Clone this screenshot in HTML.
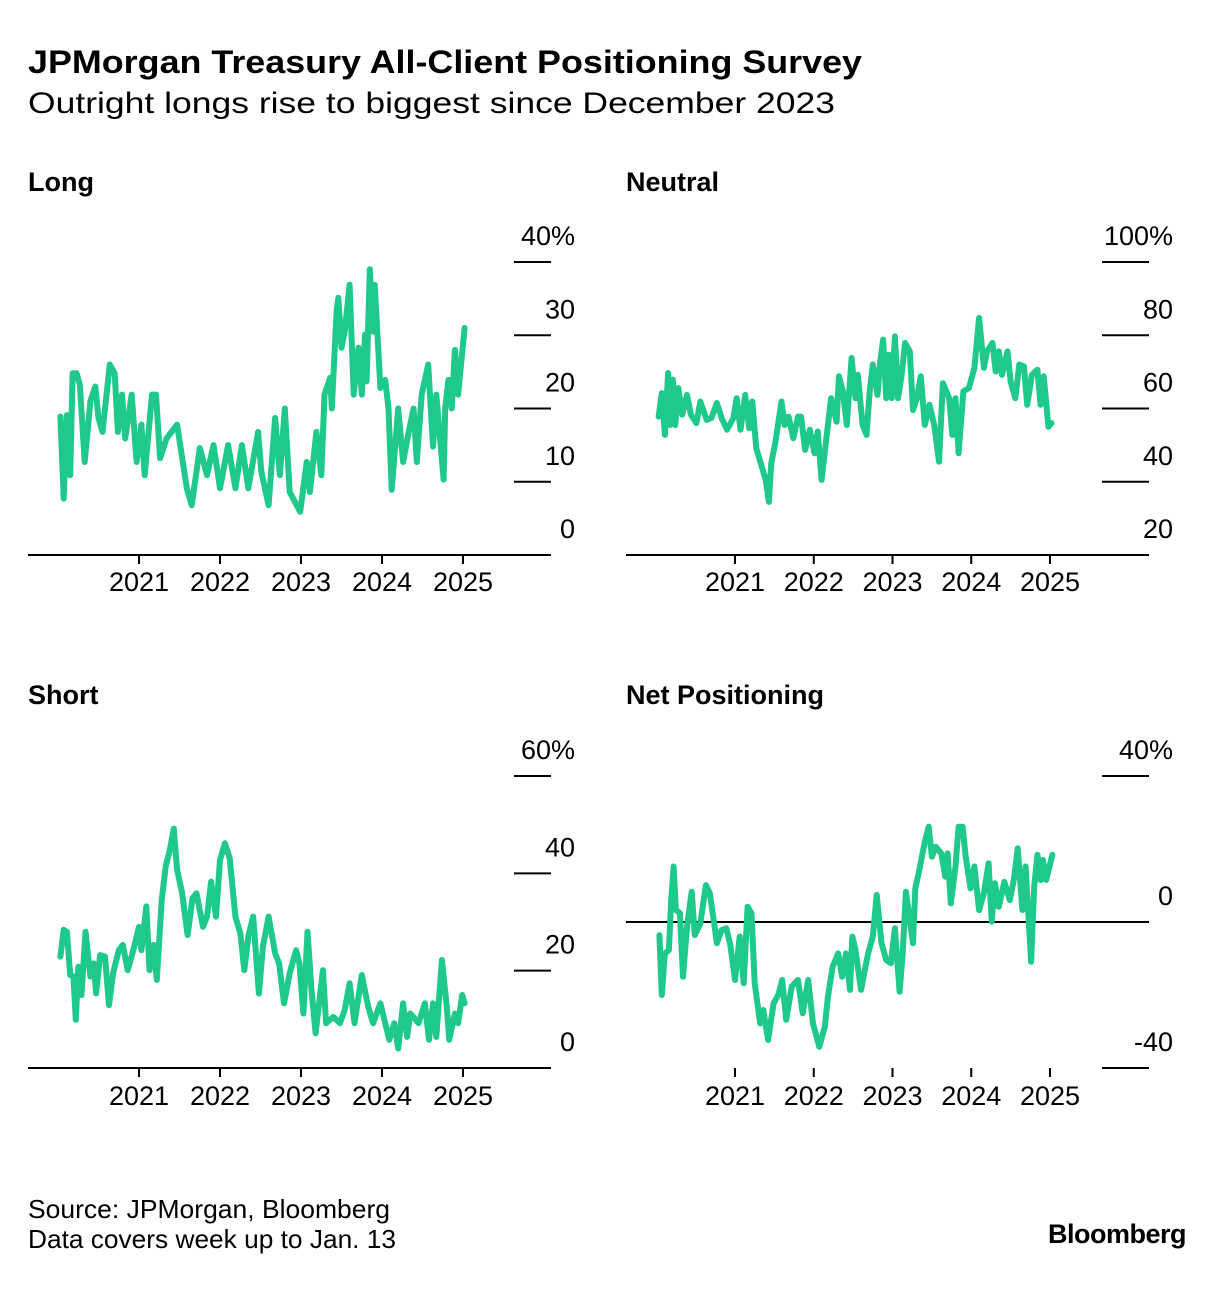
<!DOCTYPE html>
<html><head><meta charset="utf-8"><style>
html,body{margin:0;padding:0;background:#fff;}
svg{display:block;font-family:"Liberation Sans",Arial,sans-serif;}
</style></head><body>
<svg id="chart" width="1224" height="1294" viewBox="0 0 1224 1294" xmlns="http://www.w3.org/2000/svg">
<text x="28" y="73" font-size="32" font-weight="bold" fill="#000" textLength="834" lengthAdjust="spacingAndGlyphs">JPMorgan Treasury All-Client Positioning Survey</text>
<text x="28" y="113" font-size="30" fill="#000" textLength="807" lengthAdjust="spacingAndGlyphs">Outright longs rise to biggest since December 2023</text>
<text x="28" y="1218" font-size="26" fill="#000" textLength="362" lengthAdjust="spacingAndGlyphs">Source: JPMorgan, Bloomberg</text>
<text x="28" y="1248" font-size="26" fill="#000" textLength="368" lengthAdjust="spacingAndGlyphs">Data covers week up to Jan. 13</text>
<text x="1186" y="1243" font-size="27" font-weight="bold" fill="#000" text-anchor="end" letter-spacing="-0.5">Bloomberg</text>
<g id="panels"></g>
</svg>
<script>
// ---- Long panel data ----
const longDates = [2020.03,2020.07,2020.11,2020.15,2020.18,2020.23,2020.27,2020.33,2020.40,2020.46,2020.50,2020.55,2020.64,2020.70,2020.74,2020.79,2020.83,2020.91,2020.97,2021.03,2021.07,2021.16,2021.21,2021.26,2021.34,2021.47,2021.59,2021.65,2021.75,2021.84,2021.92,2022.00,2022.10,2022.19,2022.27,2022.35,2022.47,2022.51,2022.60,2022.68,2022.74,2022.80,2022.86,2022.99,2023.07,2023.11,2023.19,2023.25,2023.29,2023.36,2023.38,2023.44,2023.46,2023.50,2023.54,2023.60,2023.65,2023.71,2023.75,2023.79,2023.81,2023.85,2023.89,2023.91,2023.98,2024.04,2024.08,2024.12,2024.20,2024.26,2024.33,2024.39,2024.43,2024.49,2024.57,2024.63,2024.67,2024.76,2024.78,2024.82,2024.86,2024.90,2024.94,2025.02];
const longValues = [18.9,7.7,19.1,10.9,24.8,24.8,23.2,12.7,21,23,18.7,16.8,26,24.8,16.8,21.9,15.9,21.9,12.7,17.8,10.9,21.9,21.9,13.2,15.9,17.8,9.1,6.8,14.6,10.9,15,9.1,15,9.1,15,9.1,16.8,11.4,6.8,18.7,10.9,20,8.6,5.9,12.7,8.6,16.8,10.9,21.9,24.2,20,33.3,35.1,28.3,30.5,36.9,21.9,28.3,21.9,30.1,23.7,39,30.5,36.9,22.8,23.9,20,8.9,20,12.7,16.8,20,12.7,21.9,26,14.8,21.9,10.3,20,23.9,20,28,21.9,31];
const longTicks = [0,10,20,30,40];
const longTickLabels = ["0","10","20","30","40%"];
// ---- Neutral panel data ----
const neutralDates = [2020.03,2020.07,2020.11,2020.15,2020.18,2020.21,2020.24,2020.28,2020.33,2020.39,2020.44,2020.51,2020.56,2020.64,2020.70,2020.77,2020.83,2020.90,2020.98,2021.02,2021.07,2021.13,2021.18,2021.22,2021.27,2021.34,2021.39,2021.43,2021.46,2021.51,2021.59,2021.63,2021.68,2021.74,2021.80,2021.84,2021.89,2021.95,2022.01,2022.05,2022.10,2022.16,2022.22,2022.29,2022.32,2022.37,2022.42,2022.48,2022.53,2022.56,2022.62,2022.67,2022.71,2022.75,2022.81,2022.84,2022.88,2022.92,2022.95,2022.99,2023.03,2023.07,2023.11,2023.16,2023.22,2023.26,2023.31,2023.36,2023.41,2023.47,2023.53,2023.59,2023.64,2023.72,2023.76,2023.80,2023.84,2023.90,2023.97,2024.04,2024.10,2024.16,2024.20,2024.27,2024.31,2024.35,2024.39,2024.46,2024.50,2024.56,2024.61,2024.67,2024.71,2024.77,2024.84,2024.88,2024.92,2024.98,2025.02];
const neutralValues = [57.8,64.2,52.8,69.7,55.5,67.9,55.5,65.6,58.3,63.7,58.3,56,61.9,56.9,57.4,61.5,57.4,54.2,57.4,62.8,54.2,63.7,54.6,61.9,49.1,44.1,40.5,34.5,45,50.5,61.9,55.5,57.8,51.9,57.8,57.8,48.7,54.2,47.8,53.7,40.5,51.9,62.8,56.4,68.8,64.7,55.5,73.8,62.8,69.2,55.5,52.8,64.7,72,63.7,72,78.8,62.8,74.7,62.8,79.7,62.8,68.3,77.9,75.6,59.6,62.8,68.8,55.5,61,55.5,45.5,66.9,62.8,52.8,62.8,47.8,64.7,65.6,71.1,84.7,71.1,75.6,77.9,70.1,75.6,69.2,75.6,67.4,62.8,72,71.5,61,69.2,70.6,61,68.8,55,56];
const neutralTicks = [20,40,60,80,100];
const neutralTickLabels = ["20","40","60","80","100%"];
// ---- Short panel data ----
const shortDates = [2020.03,2020.07,2020.11,2020.15,2020.19,2020.22,2020.25,2020.29,2020.34,2020.40,2020.44,2020.47,2020.52,2020.58,2020.63,2020.68,2020.75,2020.80,2020.86,2020.93,2021.00,2021.03,2021.09,2021.13,2021.18,2021.22,2021.28,2021.33,2021.38,2021.43,2021.47,2021.53,2021.60,2021.66,2021.71,2021.79,2021.84,2021.89,2021.95,2022.00,2022.06,2022.12,2022.19,2022.25,2022.30,2022.35,2022.41,2022.48,2022.53,2022.60,2022.68,2022.73,2022.79,2022.86,2022.94,2022.98,2023.03,2023.08,2023.13,2023.18,2023.27,2023.31,2023.40,2023.48,2023.54,2023.60,2023.66,2023.75,2023.83,2023.89,2023.98,2024.04,2024.09,2024.15,2024.20,2024.26,2024.31,2024.35,2024.45,2024.53,2024.58,2024.63,2024.67,2024.74,2024.80,2024.83,2024.90,2024.94,2024.99,2025.02];
const shortValues = [22.9,28.4,28,19.1,18.8,9.9,20.8,15,28,18.8,21.5,15.3,23.2,22.9,12.9,19.5,24.2,25.3,20.1,24.2,29,24.2,33.2,20.1,25.3,18.1,34.5,41.4,44.8,49.2,40.7,36.2,27.3,34.9,35.9,29,31.1,38.3,31.1,42.7,46.2,43.1,31.1,27.7,20.1,27,31.1,15.3,24.9,31.1,23.6,21.5,13.3,19.5,24.2,21.5,11.2,28,16,7.1,20.1,9.2,10.5,9.2,11.9,17.4,9.2,19.1,12.6,9.2,13.3,9.2,5.8,9.2,4,13.3,6.4,11.2,9.2,13.3,5.8,13.3,6.4,22.2,12.6,5.8,11.2,9.2,15,13.3];
const shortTicks = [0,20,40,60];
const shortTickLabels = ["0","20","40","60%"];
// ---- Net positioning panel data ----
const netDates = [2020.04,2020.07,2020.11,2020.16,2020.19,2020.22,2020.25,2020.30,2020.34,2020.39,2020.45,2020.49,2020.56,2020.63,2020.68,2020.73,2020.77,2020.83,2020.89,2020.94,2021.00,2021.06,2021.11,2021.16,2021.21,2021.25,2021.32,2021.36,2021.42,2021.49,2021.55,2021.60,2021.65,2021.72,2021.80,2021.86,2021.93,2021.99,2022.07,2022.14,2022.18,2022.24,2022.31,2022.36,2022.41,2022.46,2022.49,2022.53,2022.60,2022.69,2022.75,2022.80,2022.86,2022.92,2022.98,2023.03,2023.09,2023.13,2023.17,2023.22,2023.26,2023.29,2023.34,2023.41,2023.46,2023.50,2023.55,2023.62,2023.67,2023.70,2023.74,2023.80,2023.84,2023.89,2023.93,2023.99,2024.04,2024.10,2024.16,2024.22,2024.26,2024.30,2024.35,2024.42,2024.49,2024.54,2024.59,2024.65,2024.69,2024.76,2024.80,2024.84,2024.88,2024.91,2024.95,2025.03];
const netValues = [-3.6,-20,-8.6,-7.7,6,15.2,3.3,2.4,-15,-1.3,8.3,-3.6,-0.4,10.1,7.9,0.5,-5.8,-2.2,-1.7,-6.3,-15.9,-4,-16.8,4.2,2.4,-16.8,-27.8,-24.1,-32.3,-22.3,-20,-15.9,-26.8,-17.7,-15.9,-25,-15.9,-27.8,-34.2,-28.7,-20.5,-12.2,-8.6,-15,-8.6,-18.6,-4,-7.7,-18.6,-8.6,-4,7.4,-5.8,-10.4,-11.3,-1.7,-19.1,-8.6,8.3,0.5,-5.8,9.2,14.2,22,26.1,17.9,20.6,18.8,12.4,18.8,5.1,15.2,26.1,26.1,17.9,9.2,15.2,3.3,7.9,16.1,0.1,10.6,4.2,11,6,11.5,20.2,3.3,15.2,-10.9,9.7,18.4,11.5,17,11.5,18.4];
const netTicks = [-40,0,40];
const netTickLabels = ["-40","0","40%"];
const yearTicks = [2021,2022,2023,2024,2025];

const NS = "http://www.w3.org/2000/svg";
const root = document.getElementById("panels");
function mk(tag, attrs, parent){
  const e = document.createElementNS(NS, tag);
  for (const k in attrs) e.setAttribute(k, attrs[k]);
  (parent||root).appendChild(e);
  return e;
}
function linScale(d0,d1,r0,r1){ return v => r0 + (v-d0)/(d1-d0)*(r1-r0); }

function drawPanel(cfg){
  const g = mk("g", {});
  
  
  const x = linScale(2021, 2025, cfg.x2021, cfg.x2025);
  const y = linScale(cfg.v0, cfg.v1, cfg.y0, cfg.y1);
  const t = mk("text", {x: cfg.left, y: cfg.titleY, "font-size": 27, "font-weight": "bold", fill: "#000"}, g);
  t.textContent = cfg.title;
  
  
  cfg.ticks.forEach((v,i) => {
    const yy = y(v);
    const isAxis = cfg.axisValue === v;
    const ln = mk("line", {x1: isAxis ? cfg.left : cfg.gridX1, x2: cfg.gridX2, y1: yy, y2: yy, stroke: "#000", "stroke-width": 2}, g);
    
    
    const lb = mk("text", {x: cfg.labelX, y: yy - 17, "font-size": 27, fill: "#000", "text-anchor": "end"}, g);
    lb.textContent = cfg.tickLabels[i];
    
    
  });
  yearTicks.forEach(yr => {
    const xx = x(yr);
    const tk = mk("line", {x1: xx, x2: xx, y1: cfg.tickY, y2: cfg.tickY + 9, stroke: "#000", "stroke-width": 2}, g);
    
    
    const lb = mk("text", {x: xx, y: cfg.xLabelY, "font-size": 27, fill: "#000", "text-anchor": "middle"}, g);
    lb.textContent = String(yr);
    
    
  });
  const pts = cfg.dates.map((d,i) => x(d).toFixed(1) + "," + y(cfg.values[i]).toFixed(1)).join(" ");
  const pl = mk("polyline", {points: pts, fill: "none", stroke: "#1ec98b", "stroke-width": 6, "stroke-linejoin": "round", "stroke-linecap": "round"}, g);
  
  
}

drawPanel({name:"long", title:"Long", left:28, titleY:191, x2021:139, x2025:463, v0:0, v1:40, y0:555, y1:262,
  ticks:longTicks, tickLabels:longTickLabels, axisValue:0, gridX1:514, gridX2:551, labelX:575, tickY:555, xLabelY:591,
  dates:longDates, values:longValues});
drawPanel({name:"neutral", title:"Neutral", left:626, titleY:191, x2021:735, x2025:1050, v0:20, v1:100, y0:555, y1:262,
  ticks:neutralTicks, tickLabels:neutralTickLabels, axisValue:20, gridX1:1102, gridX2:1149, labelX:1173, tickY:555, xLabelY:591,
  dates:neutralDates, values:neutralValues});
drawPanel({name:"short", title:"Short", left:28, titleY:704, x2021:139, x2025:463, v0:0, v1:60, y0:1068, y1:776,
  ticks:shortTicks, tickLabels:shortTickLabels, axisValue:0, gridX1:514, gridX2:551, labelX:575, tickY:1068, xLabelY:1105,
  dates:shortDates, values:shortValues});
drawPanel({name:"net", title:"Net Positioning", left:626, titleY:704, x2021:735, x2025:1050, v0:-40, v1:40, y0:1068, y1:776,
  ticks:netTicks, tickLabels:netTickLabels, axisValue:0, gridX1:1102, gridX2:1149, labelX:1173, tickY:1068, xLabelY:1105,
  dates:netDates, values:netValues});
</script>
</body></html>
